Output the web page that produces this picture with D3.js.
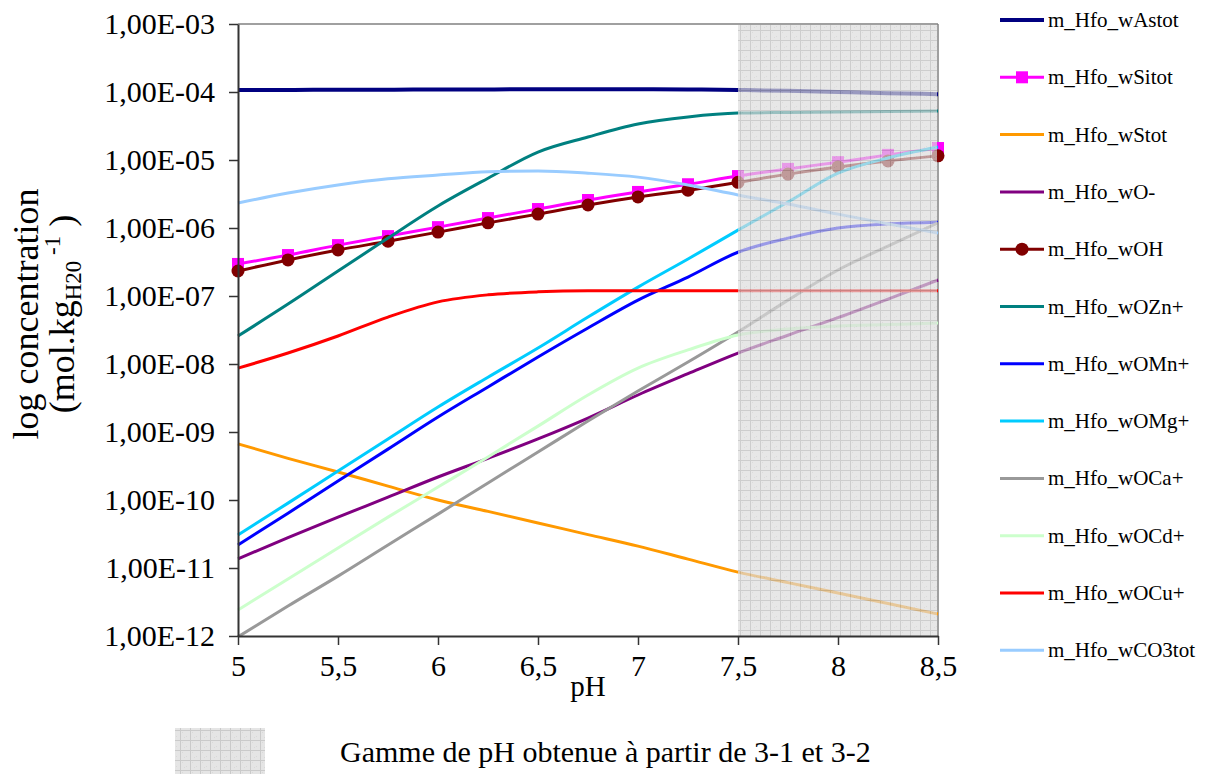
<!DOCTYPE html>
<html>
<head>
<meta charset="utf-8">
<script src="https://cdn.jsdelivr.net/npm/d3@7"></script>
<style>
  html, body { margin: 0; padding: 0; background: #fff; }
  svg { display: block; font-family: "Liberation Serif", "Times New Roman", serif; }
</style>
</head>
<body>
<svg id="chart" width="1226" height="774"></svg>
<script>
// ---------- DATA ----------
const pH = [5, 5.25, 5.5, 5.75, 6, 6.25, 6.5, 6.75, 7, 7.25, 7.5, 7.75, 8, 8.25, 8.5];

const wAstot  = [1.07e-4, 1.07e-4, 1.08e-4, 1.08e-4, 1.09e-4, 1.09e-4, 1.1e-4, 1.1e-4, 1.1e-4, 1.09e-4, 1.07e-4, 1.04e-4, 1.0e-4, 9.6e-5, 9.3e-5];
const wSitot  = [2.96e-7, 4.0e-7, 5.6e-7, 7.6e-7, 1.03e-6, 1.4e-6, 1.9e-6, 2.58e-6, 3.39e-6, 4.4e-6, 5.8e-6, 7.4e-6, 9.3e-6, 1.19e-5, 1.5e-5];
const wStot   = [6.7e-10, 4.1e-10, 2.58e-10, 1.6e-10, 1.0e-10, 6.8e-11, 4.6e-11, 3.1e-11, 2.1e-11, 1.35e-11, 8.7e-12, 6.1e-12, 4.3e-12, 3.0e-12, 2.1e-12];
const wOminus = [1.36e-11, 2.8e-11, 5.6e-11, 1.1e-10, 2.18e-10, 4.1e-10, 7.9e-10, 1.6e-9, 3.5e-9, 7.2e-9, 1.45e-8, 2.65e-8, 4.8e-8, 9.0e-8, 1.72e-7];
const wOH     = [2.33e-7, 3.39e-7, 4.75e-7, 6.4e-7, 8.7e-7, 1.19e-6, 1.6e-6, 2.18e-6, 2.86e-6, 3.6e-6, 4.7e-6, 6.2e-6, 7.9e-6, 9.7e-6, 1.15e-5];
const wOZn    = [2.58e-8, 7.6e-8, 2.33e-7, 7.1e-7, 2.11e-6, 5.4e-6, 1.31e-5, 2.18e-5, 3.39e-5, 4.3e-5, 4.9e-5, 5.0e-5, 5.08e-5, 5.18e-5, 5.26e-5];
const wOMn    = [2.18e-11, 6.4e-11, 1.9e-10, 5.6e-10, 1.66e-9, 4.6e-9, 1.27e-8, 3.39e-8, 8.7e-8, 1.9e-7, 4.4e-7, 7.1e-7, 1.0e-6, 1.15e-6, 1.22e-6];
const wOMg    = [3.06e-11, 9.0e-11, 2.67e-10, 7.9e-10, 2.33e-9, 6.4e-9, 1.72e-8, 4.9e-8, 1.35e-7, 3.5e-7, 9.3e-7, 2.41e-6, 6.4e-6, 1.07e-5, 1.55e-5];
const wOCa    = [9.7e-13, 2.76e-12, 7.6e-12, 2.18e-11, 6.2e-11, 1.78e-10, 5.08e-10, 1.45e-9, 4.0e-9, 1.07e-8, 2.96e-8, 8.7e-8, 2.41e-7, 5.4e-7, 1.19e-6];
const wOCd    = [2.41e-12, 6.9e-12, 1.97e-11, 5.6e-11, 1.55e-10, 4.3e-10, 1.22e-9, 3.5e-9, 8.7e-9, 1.61e-8, 2.67e-8, 3.27e-8, 3.62e-8, 3.8e-8, 4.0e-8];
const wOCu    = [8.7e-9, 1.45e-8, 2.58e-8, 4.9e-8, 8.2e-8, 1.04e-7, 1.15e-7, 1.19e-7, 1.19e-7, 1.19e-7, 1.19e-7, 1.19e-7, 1.19e-7, 1.19e-7, 1.19e-7];
const wCO3tot = [2.33e-6, 3.27e-6, 4.3e-6, 5.3e-6, 6.0e-6, 6.7e-6, 6.9e-6, 6.4e-6, 5.6e-6, 4.3e-6, 3.06e-6, 2.25e-6, 1.6e-6, 1.15e-6, 8.4e-7];

const seriesNames = ["m_Hfo_wAstot", "m_Hfo_wSitot", "m_Hfo_wStot", "m_Hfo_wO-", "m_Hfo_wOH", "m_Hfo_wOZn+",
  "m_Hfo_wOMn+", "m_Hfo_wOMg+", "m_Hfo_wOCa+", "m_Hfo_wOCd+", "m_Hfo_wOCu+", "m_Hfo_wCO3tot"];
const seriesValues = [wAstot, wSitot, wStot, wOminus, wOH, wOZn, wOMn, wOMg, wOCa, wOCd, wOCu, wCO3tot];
const seriesColors = ["#000080", "#FF00FF", "#FF9900", "#800080", "#800000", "#008080",
  "#0000FF", "#00CCFF", "#999999", "#CCFFCC", "#FF0000", "#99CCFF"];
const seriesMarkers = ["none", "square", "none", "none", "circle", "none", "none", "none", "none", "none", "none", "none"];

const xTicks = [5, 5.5, 6, 6.5, 7, 7.5, 8, 8.5];
const yTicks = [1e-3, 1e-4, 1e-5, 1e-6, 1e-7, 1e-8, 1e-9, 1e-10, 1e-11, 1e-12];
const shadedRange = [7.5, 8.5];
const xTitle = "pH";
const bottomLegendText = "Gamme de pH obtenue à partir de 3-1 et 3-2";

// ---------- LAYOUT ----------
const svg = d3.select("#chart");
const L = 238, R = 938, T = 24, B = 636;
const x = d3.scaleLinear().domain([5, 8.5]).range([L, R]);
const y = d3.scaleLog().domain([1e-12, 1e-3]).range([B, T]);

// pattern for shaded region
const defs = svg.append("defs");
const pat = defs.append("pattern").attr("id", "grid").attr("patternUnits", "userSpaceOnUse")
  .attr("width", 10).attr("height", 10);
pat.append("rect").attr("width", 10).attr("height", 10).attr("fill", "#dcdcdc");
pat.append("rect").attr("x", 2).attr("y", 2).attr("width", 1).attr("height", 1).attr("fill", "#cccccc");
pat.append("rect").attr("x", 6).attr("y", 6).attr("width", 1).attr("height", 1).attr("fill", "#cccccc");
pat.append("rect").attr("x", 4).attr("y", 7).attr("width", 1).attr("height", 1).attr("fill", "#cccccc");
pat.append("rect").attr("x", 0).attr("y", 0).attr("width", 10).attr("height", 1).attr("fill", "#b8b8b8");
pat.append("rect").attr("x", 0).attr("y", 0).attr("width", 1).attr("height", 10).attr("fill", "#b8b8b8");

defs.append("clipPath").attr("id", "plotclip").append("rect")
  .attr("x", L - 8).attr("y", T - 8).attr("width", R - L + 16).attr("height", B - T + 8);

// plot border (top/right grey)
svg.append("line").attr("x1", L).attr("x2", R).attr("y1", T).attr("y2", T)
  .attr("stroke", "#808080").attr("stroke-width", 1.5);
svg.append("line").attr("x1", R).attr("x2", R).attr("y1", T).attr("y2", B)
  .attr("stroke", "#808080").attr("stroke-width", 1.5);

// series
const gSeries = svg.append("g").attr("clip-path", "url(#plotclip)");
const line = d3.line().x((d, i) => x(pH[i])).y(d => y(d)).curve(d3.curveMonotoneX);
seriesValues.forEach((vals, si) => {
  const g = gSeries.append("g");
  g.append("path").datum(vals).attr("d", line)
    .attr("fill", "none").attr("stroke", seriesColors[si])
    .attr("stroke-width", si === 0 ? 4 : 3).attr("stroke-linejoin", "round");
  if (seriesMarkers[si] === "square") {
    g.selectAll("rect").data(vals).join("rect")
      .attr("x", (d, i) => x(pH[i]) - 6).attr("y", d => y(d) - 6)
      .attr("width", 12).attr("height", 12).attr("fill", seriesColors[si]);
  } else if (seriesMarkers[si] === "circle") {
    g.selectAll("circle").data(vals).join("circle")
      .attr("cx", (d, i) => x(pH[i])).attr("cy", d => y(d)).attr("r", 6.5)
      .attr("fill", seriesColors[si]);
  }
});

// shaded region overlay
svg.append("rect").attr("x", x(shadedRange[0])).attr("y", T + 1)
  .attr("width", x(shadedRange[1]) - x(shadedRange[0]) - 1).attr("height", B - T - 1)
  .attr("fill", "url(#grid)").attr("opacity", 0.7);

// axes
const fmt = v => {
  const e = Math.round(Math.log10(v));
  return "1,00E-" + String(-e).padStart(2, "0");
};
const yAxis = svg.append("g").attr("transform", `translate(${L},0)`)
  .call(d3.axisLeft(y).tickValues(yTicks).tickFormat(fmt).tickSize(9).tickPadding(14).tickSizeOuter(0));
const xAxis = svg.append("g").attr("transform", `translate(0,${B})`)
  .call(d3.axisBottom(x).tickValues(xTicks).tickFormat(d => String(d).replace(".", ",")).tickSize(9).tickPadding(10).tickSizeOuter(0));
[yAxis, xAxis].forEach(a => {
  a.select(".domain").attr("stroke", "#333").attr("stroke-width", 2);
  a.selectAll(".tick line").attr("stroke", "#333").attr("stroke-width", 1.5);
  a.selectAll(".tick text").attr("fill", "#000").style("font-family", "Liberation Serif").style("font-size", "30px");
});

// axis titles
svg.append("text").attr("x", x(6.75)).attr("y", 696).attr("text-anchor", "middle")
  .style("font-size", "29px").text(xTitle);

const yt = svg.append("g").attr("transform", "translate(0,314) rotate(-90)");
yt.append("text").attr("x", 0).attr("y", 38).attr("text-anchor", "middle")
  .style("font-size", "36px").text("log concentration");
const t2 = yt.append("text").attr("x", 0).attr("y", 74).attr("text-anchor", "middle").style("font-size", "36px");
t2.append("tspan").text("(mol.kg");
t2.append("tspan").attr("baseline-shift", "-30%").style("font-size", "23px").text("H20");
t2.append("tspan").attr("baseline-shift", "60%").style("font-size", "23px").text(" -1");
t2.append("tspan").text(" )");

// legend
const lg = svg.append("g");
seriesNames.forEach((name, i) => {
  const cy = 20 + i * 57.3;
  lg.append("line").attr("x1", 1000).attr("x2", 1044).attr("y1", cy).attr("y2", cy)
    .attr("stroke", seriesColors[i]).attr("stroke-width", i === 0 ? 4 : 3);
  if (seriesMarkers[i] === "square") {
    lg.append("rect").attr("x", 1016).attr("y", cy - 6).attr("width", 12).attr("height", 12).attr("fill", seriesColors[i]);
  } else if (seriesMarkers[i] === "circle") {
    lg.append("circle").attr("cx", 1022).attr("cy", cy).attr("r", 6.5).attr("fill", seriesColors[i]);
  }
  lg.append("text").attr("x", 1048).attr("y", cy + 7).style("font-size", "21px").text(name);
});

// bottom legend for shaded region
svg.append("rect").attr("x", 175).attr("y", 728).attr("width", 90).attr("height", 46)
  .attr("fill", "url(#grid)").attr("opacity", 0.75);
svg.append("text").attr("x", 340).attr("y", 762).style("font-size", "30px").text(bottomLegendText);
</script>
</body>
</html>
